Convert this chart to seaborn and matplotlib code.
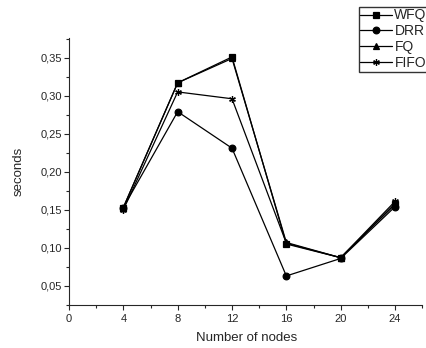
import matplotlib
matplotlib.use("Agg")
import matplotlib.pyplot as plt
import seaborn as sns
import pandas as pd
from matplotlib.ticker import MultipleLocator, FuncFormatter

# data
nodes = [4, 8, 12, 16, 20, 24]
wfq = [0.153, 0.317, 0.351, 0.105, 0.087, 0.157]
drr = [0.153, 0.279, 0.231, 0.063, 0.086, 0.154]
fq = [0.153, 0.317, 0.349, 0.107, 0.087, 0.158]
fifo = [0.150, 0.305, 0.296, 0.106, 0.087, 0.161]
series_names = ["WFQ", "DRR", "FQ", "FIFO"]
markers = ["s", "o", "^", (6, 2, 0)]

sns.set_style("ticks")
plt.rcParams["font.family"] = ["Liberation Sans", "DejaVu Sans"]

fig = plt.figure(figsize=(4.26, 3.48), dpi=100)
ax = fig.add_axes([0.162, 0.124, 0.829, 0.767])

for name, vals, mk in zip(series_names, [wfq, drr, fq, fifo], markers):
    df = pd.DataFrame({"nodes": nodes, "seconds": vals})
    sns.lineplot(data=df, x="nodes", y="seconds", color="black",
                 marker=mk, markersize=4.8, markeredgecolor="black",
                 markeredgewidth=0.9, linewidth=0.9, label=name, ax=ax)

handles, labels = ax.get_legend_handles_labels()
ax.get_legend().remove()
fig.legend(handles, labels, loc="upper left",
           bbox_to_anchor=(359 / 426, 1 - 7 / 348),
           frameon=True, fancybox=False, edgecolor="black",
           fontsize=10, handlelength=2.3, handletextpad=0.15,
           labelspacing=0.14, borderpad=0.1, borderaxespad=0.0)

ax.set_xlim(0, 26)
ax.set_ylim(0.025, 0.376)
ax.xaxis.set_major_locator(MultipleLocator(4))
ax.xaxis.set_minor_locator(MultipleLocator(2))
ax.yaxis.set_major_locator(MultipleLocator(0.05))
ax.yaxis.set_minor_locator(MultipleLocator(0.025))
ax.yaxis.set_major_formatter(FuncFormatter(lambda v, p: f"{v:.2f}".replace(".", ",")))
ax.set_xticks([0, 4, 8, 12, 16, 20, 24])
ax.tick_params(axis="both", which="major", direction="out", length=3.8,
               width=0.8, labelsize=8, pad=1.5)
ax.tick_params(axis="x", which="major", pad=3)
ax.tick_params(axis="both", which="minor", direction="out", length=2, width=0.8)

sns.despine(ax=ax)
ax.spines["left"].set_linewidth(0.8)
ax.spines["bottom"].set_linewidth(0.8)

ax.set_xlabel("Number of nodes", fontsize=9.5)
ax.set_ylabel("seconds", fontsize=9.5)
ax.xaxis.set_label_coords(0.502, -0.102)
ax.yaxis.set_label_coords(-0.126, 0.5)

fig.savefig("out.png", dpi=100)
